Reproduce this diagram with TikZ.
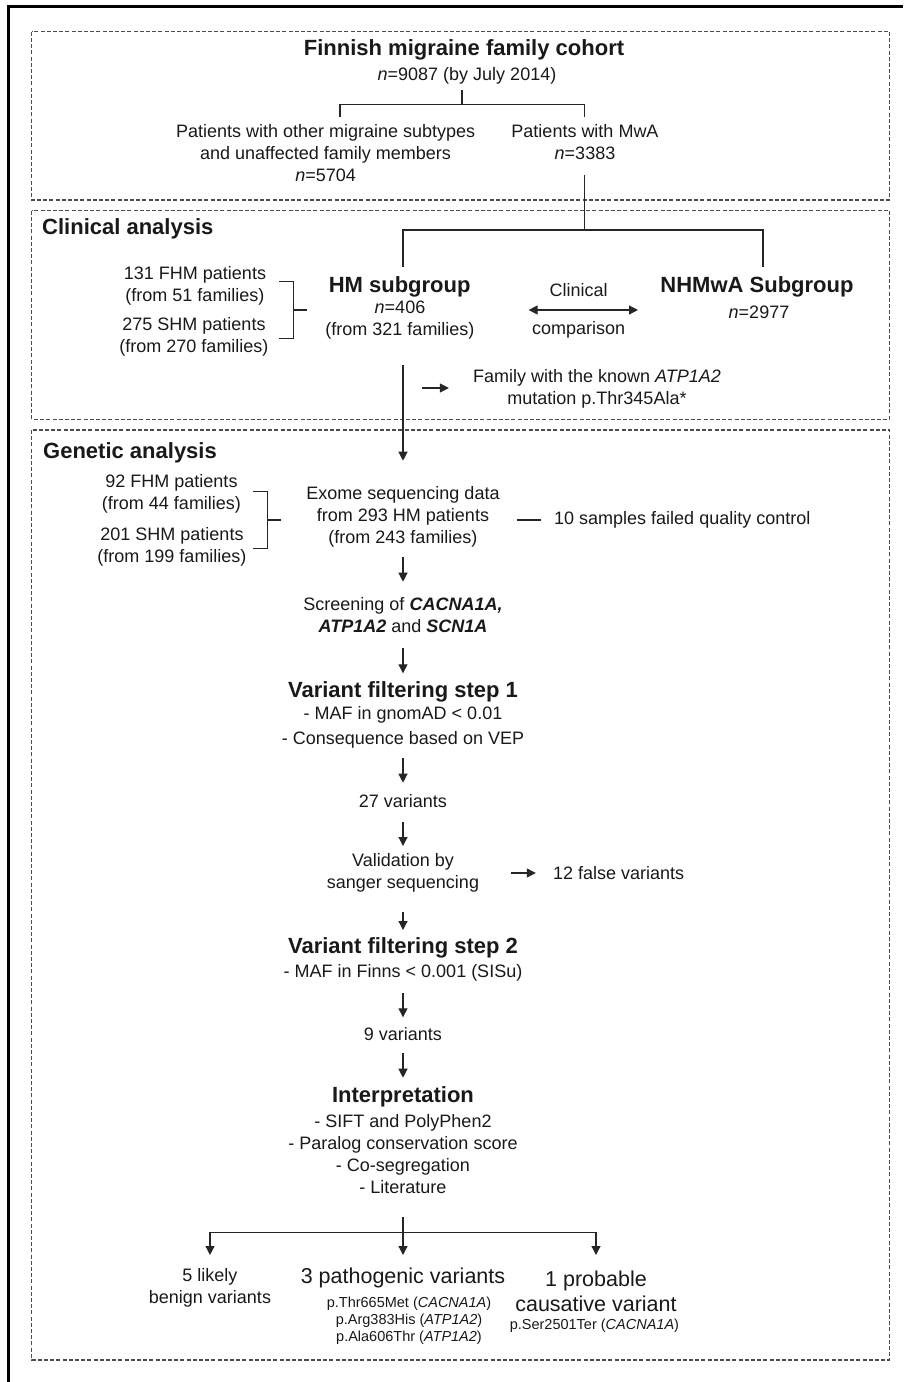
\documentclass[tikz,border=0pt]{standalone}
\usepackage{fontspec}
\setmainfont{Liberation Sans}
\usetikzlibrary{arrows.meta}

\begin{document}
\begin{tikzpicture}[x=10pt,y=-10pt,
    txt/.style={font=\fontsize{18}{22}\selectfont, align=center, inner sep=0pt, text=black!90},
    head/.style={font=\fontsize{22}{26}\selectfont\bfseries, align=center, inner sep=0pt, text=black!90},
    big/.style={font=\fontsize{21.5}{25.7}\selectfont, align=center, inner sep=0pt, text=black!90},
    small/.style={font=\fontsize{14.5}{17}\selectfont, align=center, inner sep=0pt, text=black!90},
    panel/.style={draw=black!70, line width=1.3pt, dash pattern=on 4pt off 2.2pt},
    link/.style={line width=1.2pt, draw=black!85},
    arr/.style={link, -{Triangle[length=9pt,width=9pt]}}]
    \useasboundingbox (0,0) rectangle (90.3,138.2);

    \draw[line width=2.5pt] (0.86,138.2) -- (0.86,0.67) -- (90.3,0.67);
    \draw[panel] (3.17,3.17) rectangle (88.97,20.0);
    \draw[panel] (3.17,21.07) rectangle (88.97,41.93);
    \draw[panel] (3.17,43.0) rectangle (88.97,136.0);

    % cohort
    \node[head] (cohort) at (46.4,5.0) {Finnish migraine family cohort};
    \node[txt] (cohortn) at (46.7,7.6) {\textit{n}=9087 (by July 2014)};
    \node[txt] (other) at (32.56,15.28) {Patients with other migraine subtypes\\and unaffected family members\\\textit{n}=5704};
    \node[txt] (mwa) at (58.5,14.2) {Patients with MwA\\\textit{n}=3383};
    \coordinate (s0) at (46.2,9.0);
    \coordinate (s1) at (46.2,10.43);
    \coordinate (d1) at (34.0,11.7);
    \coordinate (d2) at (58.45,11.7);
    \draw[link] (s0) -- (s1);
    \draw[link] (d1) -- (d1 |- s1) -- (d2 |- s1) -- (d2);

    % clinical analysis
    \node[head, anchor=west] (clinlab) at (4.2,22.9) {Clinical analysis};
    \coordinate (m0) at (58.45,17.5);
    \coordinate (m1) at (58.45,23.0);
    \coordinate (c1) at (40.3,26.67);
    \coordinate (c2) at (76.3,26.67);
    \draw[link] (m0) -- (m1);
    \draw[link] (c1) -- (c1 |- m1) -- (c2 |- m1) -- (c2);

    \node[txt] (fhm) at (19.5,28.59) {131 FHM patients\\(from 51 families)};
    \node[txt] (shm) at (19.4,33.72) {275 SHM patients\\(from 270 families)};
    \coordinate (b1) at (27.9,28.17);
    \coordinate (b2) at (27.9,33.83);
    \coordinate (bm) at (29.37,31.0);
    \coordinate (b3) at (30.7,31.0);
    \draw[link] (b1) -| (bm) |- (b2);
    \draw[link] (bm) -- (b3);

    \node[head] (hm) at (39.97,28.67) {HM subgroup};
    \node[txt] (hmn) at (40.0,32.05) {\textit{n}=406\\(from 321 families)};
    \node[txt] (clinical) at (57.87,29.0) {Clinical};
    \node[txt] (comparison) at (57.87,33.0) {comparison};
    \coordinate (cl) at (52.86,31.0);
    \coordinate (cr) at (63.8,31.0);
    \draw[link, {Triangle[length=9pt,width=9pt]}-{Triangle[length=9pt,width=9pt]}] (cl) -- (cr);
    \node[head] (nhm) at (75.7,28.73) {NHMwA Subgroup};
    \node[txt] (nhmn) at (75.9,31.27) {\textit{n}=2977};

    \node[txt] (known) at (59.7,38.87) {Family with the known \textit{ATP1A2}\\mutation p.Thr345Ala*};
    \coordinate (k0) at (42.2,38.8);
    \draw[arr, shorten >=24pt] (k0) -- (k0 -| known.west);

    % genetic analysis
    \node[head, anchor=west] (genlab) at (4.3,45.33) {Genetic analysis};
    \node[txt] (fhm2) at (17.15,49.42) {92 FHM patients\\(from 44 families)};
    \node[txt] (shm2) at (17.2,54.72) {201 SHM patients\\(from 199 families)};
    \coordinate (g1) at (25.34,49.17);
    \coordinate (g2) at (25.34,54.83);
    \coordinate (gm) at (26.78,52.0);
    \coordinate (g3) at (28.1,52.0);
    \draw[link] (g1) -| (gm) |- (g2);
    \draw[link] (gm) -- (g3);

    \node[txt] (exome) at (40.3,51.72) {Exome sequencing data\\from 293 HM patients\\(from 243 families)};
    \node[txt, anchor=west] (failed) at (55.4,52.0) {10 samples failed quality control};
    \coordinate (e0) at (51.66,52.0);
    \draw[link, shorten >=12.7pt] (e0) -- (failed.west);

    \node[txt] (screen) at (40.3,61.49) {Screening of \textbf{\textit{CACNA1A,}}\\\textbf{\textit{ATP1A2}} and \textbf{\textit{SCN1A}}};
    \node[head] (step1) at (40.3,69.17) {Variant filtering step 1};
    \node[txt] (step1d) at (40.3,72.75) {- MAF in gnomAD < 0.01\\[3pt]- Consequence based on VEP};
    \node[txt] (v27) at (40.3,80.07) {27 variants};
    \node[txt] (valid) at (40.3,87.33) {Validation by\\sanger sequencing};
    \node[txt, anchor=west] (false) at (55.28,87.27) {12 false variants};
    \coordinate (v0) at (51.08,87.3);
    \draw[arr, shorten >=17pt] (v0) -- (v0 -| false.west);
    \node[head] (step2) at (40.3,94.83) {Variant filtering step 2};
    \node[txt] (step2d) at (40.3,97.33) {- MAF in Finns < 0.001 (SISu)};
    \node[txt] (v9) at (40.3,103.4) {9 variants};
    \node[head] (interp) at (40.3,109.67) {Interpretation};
    \node[txt] (interpd) at (40.3,115.37) {- SIFT and PolyPhen2\\- Paralog conservation score\\- Co-segregation\\- Literature};

    \draw[arr, shorten <=44.5pt, shorten >=56.5pt] (hmn.center -| exome.center) -- (exome.center);
    \draw[arr, shorten <=39.5pt, shorten >=33.2pt] (exome.center) -- (screen.center);
    \draw[arr, shorten <=33.4pt, shorten >=18.4pt] (screen.center) -- (step1.center);
    \draw[arr, shorten <=30.8pt, shorten >=18pt] (step1d.center) -- (v27.center);
    \draw[arr, shorten <=21pt, shorten >=27.3pt] (v27.center) -- (valid.center);
    \draw[arr, shorten <=38.4pt, shorten >=18.3pt] (valid.center) -- (step2.center);
    \draw[arr, shorten <=20pt, shorten >=16.7pt] (step2d.center) -- (v9.center);
    \draw[arr, shorten <=19.3pt, shorten >=19pt] (v9.center) -- (interp.center);

    % outcomes
    \node[txt] (benign) at (21.0,128.83) {5 likely\\benign variants};
    \node[big] (patho) at (40.3,127.83) {3 pathogenic variants};
    \node[small] (pathod) at (40.9,132.04) {p.Thr665Met (\textit{CACNA1A})\\p.Arg383His (\textit{ATP1A2})\\p.Ala606Thr (\textit{ATP1A2})};
    \node[big] (causal) at (59.6,129.12) {1 probable\\causative variant};
    \node[small] (causald) at (59.44,132.6) {p.Ser2501Ter (\textit{CACNA1A})};
    \coordinate (fork) at (40.3,123.23);
    \draw[arr, shorten <=63pt, shorten >=23.3pt] (interpd.center) -- (patho.center);
    \draw[arr, shorten >=33.3pt] (fork) -| (benign.center);
    \draw[arr, shorten >=36.2pt] (fork) -| (causal.center);
\end{tikzpicture}
\end{document}
